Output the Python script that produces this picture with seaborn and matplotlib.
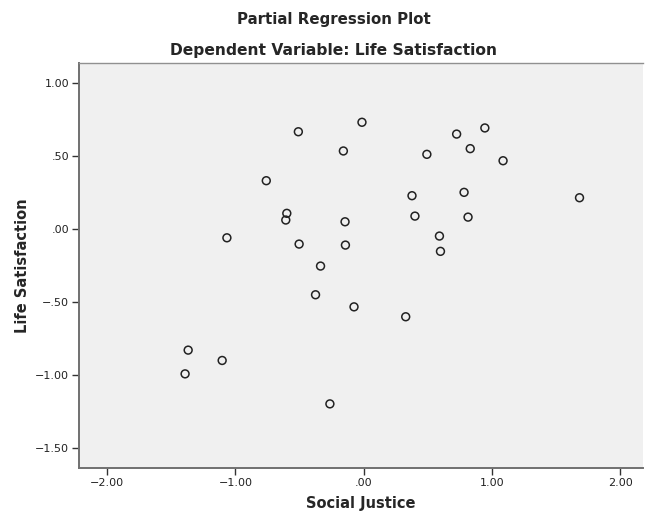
import matplotlib
matplotlib.use("Agg")
import matplotlib.pyplot as plt
from matplotlib.ticker import FuncFormatter, FixedLocator
import seaborn as sns
import pandas as pd

# partial residuals
social_justice = [-0.510, -0.014, -0.159, -0.760, -0.600, -0.608, -0.146, -1.067, -0.504, -0.143,
                  -0.337, 0.724, 0.944, 0.830, 0.492, 1.086, 0.376, 0.782, 1.682, 0.399,
                  0.813, 0.590, 0.598, -0.376, -0.076, 0.327, -1.369, -1.104, -1.393, -0.264]
life_satisfaction = [0.668, 0.733, 0.536, 0.332, 0.108, 0.062, 0.050, -0.060, -0.103, -0.110,
                     -0.254, 0.652, 0.694, 0.552, 0.513, 0.469, 0.229, 0.252, 0.215, 0.089,
                     0.082, -0.048, -0.153, -0.451, -0.534, -0.602, -0.831, -0.902, -0.994, -1.200]
x_ticks = [-2.0, -1.0, 0.0, 1.0, 2.0]
y_ticks = [1.0, 0.5, 0.0, -0.5, -1.0, -1.5]

df = pd.DataFrame({"Social Justice": social_justice, "Life Satisfaction": life_satisfaction})

sns.set_style("white")
plt.rcParams['font.family'] = ['DejaVu Sans']

fig = plt.figure(figsize=(6.45, 5.15), dpi=100)
ax = fig.add_axes([0.1225, 0.0913, 0.875, 0.7864])
ax.set_facecolor("#f0f0f0")

sns.scatterplot(data=df, x="Social Justice", y="Life Satisfaction", ax=ax,
                marker="o", s=32, facecolor="none", edgecolor="#222222", linewidth=1.1)

ax.set_xlim(-2.22, 2.18)
ax.set_ylim(-1.64, 1.14)


def spss_fmt(v, pos):
    # SPSS style: no leading zero, two decimals
    s = "%.2f" % abs(v)
    if s.startswith("0."):
        s = s[1:]
    if v < 0 and s != ".00":
        s = "\u2212" + s
    return s


ax.xaxis.set_major_locator(FixedLocator(x_ticks))
ax.yaxis.set_major_locator(FixedLocator(y_ticks))
ax.xaxis.set_major_formatter(FuncFormatter(spss_fmt))
ax.yaxis.set_major_formatter(FuncFormatter(spss_fmt))
ax.tick_params(axis="both", direction="out", length=5, width=1, color="#333333",
               labelsize=8, labelcolor="#222222", pad=2, bottom=True, left=True)

for side in ["left", "bottom"]:
    ax.spines[side].set_color("#707070")
    ax.spines[side].set_linewidth(1.4)
ax.spines["top"].set_color("#909090")
ax.spines["top"].set_linewidth(1.0)
ax.spines["right"].set_visible(False)

ax.set_xlabel("Social Justice", fontsize=10.5, fontweight="bold", labelpad=6)
ax.set_ylabel("Life Satisfaction", fontsize=10.5, fontweight="bold", labelpad=4)

fig.text(0.517, 0.962, "Partial Regression Plot", ha="center", va="center",
         fontsize=10.8, fontweight="bold")
fig.text(0.517, 0.902, "Dependent Variable: Life Satisfaction", ha="center", va="center",
         fontsize=11.2, fontweight="bold")

plt.savefig("out.png", dpi=100)
plt.close()
